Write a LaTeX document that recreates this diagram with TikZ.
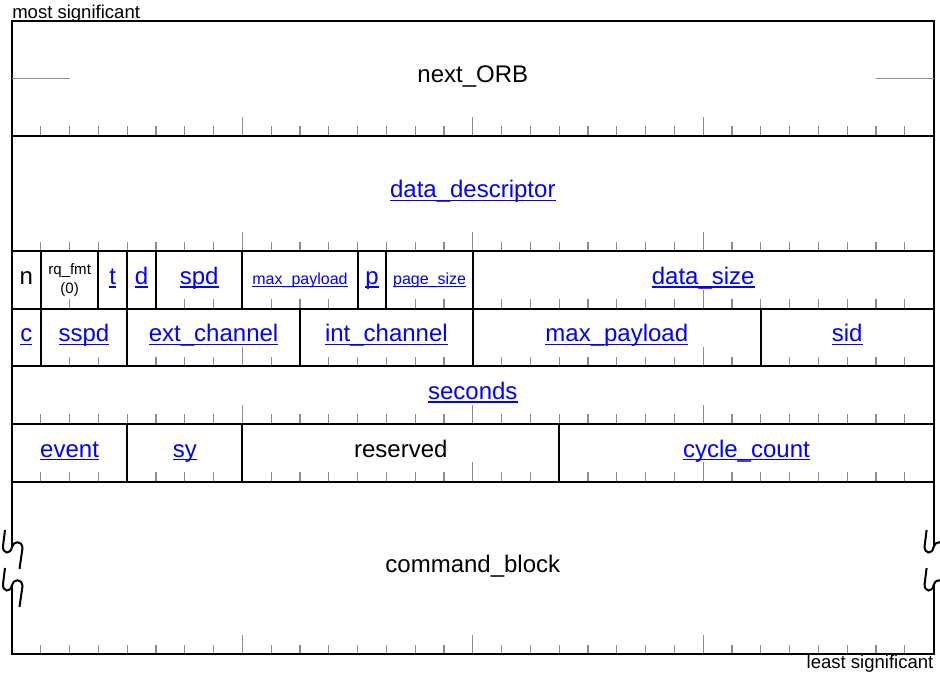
\documentclass[tikz,border=0pt]{standalone}
\usepackage{fontspec}
\setmainfont{Liberation Sans}
\usepackage{tikz}
\usepackage{xcolor}

\newcommand{\lnk}[1]{\textcolor{blue}{\setbox0\hbox{#1}\rlap{\rule[-0.14em]{\wd0}{0.06em}}\box0}}

\begin{document}
\begin{tikzpicture}[x=21.6pt, y=-21.6pt,
    field/.style={draw, line width=1.5pt, inner sep=0pt, outer sep=0pt, minimum height=43.2pt},
    bits/.style={minimum width=#1*21.6pt},
    bigtxt/.style={font=\fontsize{18pt}{21pt}\selectfont, text height=11pt, text depth=4.5pt},
    smalltxt/.style={font=\fontsize{12pt}{14pt}\selectfont, text height=9pt, text depth=2.5pt},
    margintxt/.style={font=\fontsize{13.9pt}{16pt}\selectfont, inner sep=0pt},
    bittick/.style={draw=black!45, line width=0.9pt},
    frameline/.style={line width=1.5pt},
    brk/.pic={\draw [frameline, x=0.75pt, y=-0.75pt] (-7,-17) -- (-9,-1)
        .. controls (-9.5,7) and (-1.5,8) .. (0,0)
        .. controls (1,-6) and (10,-7) .. (10.5,1) -- (7.5,22);}]
    \useasboundingbox (-0.4167,-0.719) rectangle (32.222,22.753);

    % bit ticks, the field borders cover the ones on boundaries
    \foreach \y in {4,8,10,12,14,16,22}
      \foreach \b in {1,...,31} {
        \pgfmathsetmacro\len{mod(\b,8)==0 ? 0.667 : 0.333}
        \draw [bittick] (\b,\y) -- ++(0,-\len);
      }

    \path (16,2) node [field, bits=32, minimum height=86.4pt, bigtxt] (orb) {next\_ORB};
    \draw [bittick] (orb.west) -- ++(2,0);
    \draw [bittick] (orb.east) -- ++(-2,0);
    \path (orb.north west) node [anchor=base west, yshift=1.6pt, margintxt] (msb) {most significant};

    \path (16,6) node [field, bits=32, minimum height=86.4pt, bigtxt] (desc) {\lnk{data\_descriptor}};

    \path (0.5,9) node [field, bits=1, bigtxt] (n) {n};
    \path (2,9) node [field, bits=2, align=center, font=\fontsize{11.3pt}{13.9pt}\selectfont] (rqfmt) {rq\_fmt\\(0)};
    \path (3.5,9) node [field, bits=1, bigtxt] (t) {\lnk{t}};
    \path (4.5,9) node [field, bits=1, bigtxt] (d) {\lnk{d}};
    \path (6.5,9) node [field, bits=3, bigtxt] (spd) {\lnk{spd}};
    \path (10,9) node [field, bits=4, smalltxt] (maxpl) {\lnk{max\_payload}};
    \path (12.5,9) node [field, bits=1, bigtxt] (p) {\lnk{p}};
    \path (14.5,9) node [field, bits=3, smalltxt] (pgsz) {\lnk{page\_size}};
    \path (24,9) node [field, bits=16, bigtxt] (dsize) {\lnk{data\_size}};

    \path (0.5,11) node [field, bits=1, bigtxt] (c) {\lnk{c}};
    \path (2.5,11) node [field, bits=3, bigtxt] (sspd) {\lnk{sspd}};
    \path (7,11) node [field, bits=6, bigtxt] (extch) {\lnk{ext\_channel}};
    \path (13,11) node [field, bits=6, bigtxt] (intch) {\lnk{int\_channel}};
    \path (21,11) node [field, bits=10, bigtxt] (maxpl1) {\lnk{max\_payload}};
    \path (29,11) node [field, bits=6, bigtxt] (sid) {\lnk{sid}};

    \path (16,13) node [field, bits=32, bigtxt] (sec) {\lnk{seconds}};

    \path (2,15) node [field, bits=4, bigtxt] (event) {\lnk{event}};
    \path (6,15) node [field, bits=4, bigtxt] (sy) {\lnk{sy}};
    \path (13.5,15) node [field, bits=11, bigtxt] (rsv) {reserved};
    \path (25.5,15) node [field, bits=13, bigtxt] (cycle) {\lnk{cycle\_count}};

    \path (16,19) node [bits=32, minimum height=129.6pt, inner sep=0pt, outer sep=0pt, bigtxt] (cmd) {command\_block};
    \path (cmd.west) ++(0,-0.726) coordinate (lj1) ++(0,1.32) coordinate (lj2);
    \path (cmd.east) ++(0,-0.726) coordinate (rj1) ++(0,1.32) coordinate (rj2);
    \draw [frameline] (lj1) -- (cmd.north west) -- (cmd.north east) -- (rj1);
    \draw [frameline] (lj2) -- (cmd.south west) -- (cmd.south east) -- (rj2);
    \path (lj1) pic {brk} (lj2) pic {brk} (rj1) pic {brk} (rj2) pic {brk};
    \path (cmd.south east) node [anchor=base east, yshift=-10.3pt, margintxt] (lsb) {least significant};
\end{tikzpicture}
\end{document}
